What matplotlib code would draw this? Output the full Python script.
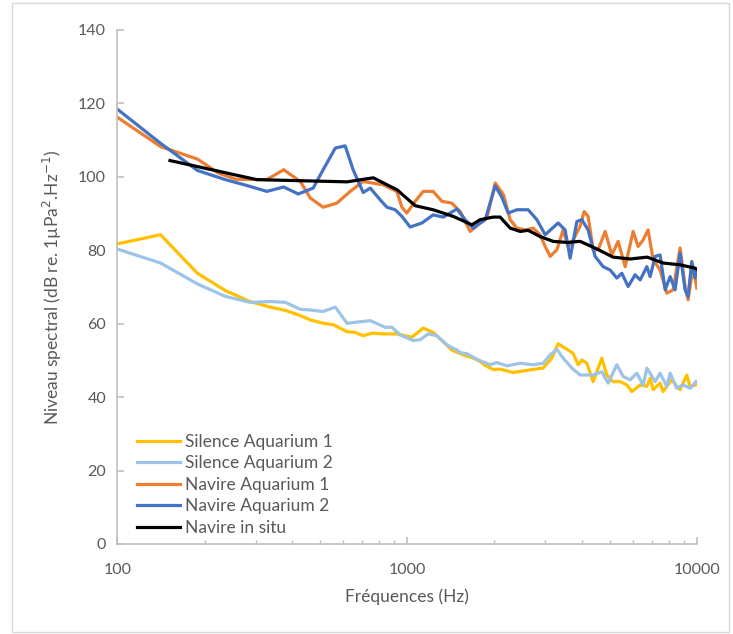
import matplotlib
matplotlib.use("Agg")
import matplotlib.pyplot as plt
from matplotlib.patches import Rectangle
from matplotlib.ticker import FixedLocator, NullFormatter

plt.rcParams['font.family'] = ['Lato', 'DejaVu Sans']

# Silence Aquarium 1
f_sil1 = [100, 141, 189, 236, 287, 337, 380, 428, 463, 513, 556, 620, 662, 705, 756, 826,
          922, 1038, 1136, 1229, 1331, 1426, 1561, 1689, 1785, 1858, 1980, 2093, 2321, 2656,
          2944, 3155, 3317, 3591, 3737, 3888, 4004, 4167, 4380, 4693, 4883, 5132, 5428, 5725,
          5955, 6363, 6710, 6887, 7055, 7454, 7635, 8181, 8511, 8738, 9215, 9461, 9921]
db_sil1 = [81.7, 84.2, 73.7, 69.0, 66.0, 64.5, 63.6, 62.2, 61.0, 60.1, 59.7, 57.8, 57.6, 56.7,
           57.4, 57.2, 57.2, 56.3, 58.8, 57.6, 55.1, 52.8, 51.5, 50.6, 49.7, 48.6, 47.5, 47.6,
           46.7, 47.4, 47.9, 50.6, 54.5, 52.8, 51.9, 48.8, 50.1, 49.2, 44.2, 50.6, 46.0, 44.2,
           44.2, 43.3, 41.5, 43.3, 42.9, 45.1, 42.0, 43.8, 41.5, 44.7, 42.9, 42.0, 46.0, 42.9,
           43.3]

# Silence Aquarium 2
f_sil2 = [100, 141, 189, 236, 287, 337, 380, 428, 463, 513, 565, 620, 746, 840, 886, 946,
          1049, 1109, 1181, 1266, 1371, 1441, 1484, 1524, 1607, 1739, 1933, 2039, 2207, 2453,
          2720, 2944, 3113, 3283, 3451, 3698, 3950, 4380, 4693, 4934, 5287, 5558, 5875, 6196,
          6516, 6710, 7168, 7454, 7863, 8071, 8511, 8949, 9461, 9921]
db_sil2 = [80.3, 76.5, 70.8, 67.4, 65.8, 66.0, 65.8, 63.9, 63.7, 63.3, 64.5, 60.1, 60.8, 59.0,
           59.0, 56.9, 55.4, 55.6, 57.2, 56.7, 54.2, 53.3, 52.8, 52.1, 51.8, 50.3, 48.8, 49.4,
           48.5, 49.2, 48.8, 49.2, 51.5, 53.0, 50.6, 47.9, 46.0, 46.0, 46.9, 43.8, 48.8, 45.6,
           44.7, 46.5, 43.3, 47.9, 44.2, 46.5, 42.9, 46.5, 42.4, 43.3, 42.4, 44.2]

# Navire Aquarium 1
f_nav1 = [100, 141, 189, 223, 257, 328, 375, 428, 463, 513, 572, 636, 705, 826, 921, 959,
          997, 1066, 1136, 1229, 1318, 1426, 1524, 1649, 1785, 1883, 2012, 2149, 2266, 2390,
          2553, 2720, 2875, 2992, 3113, 3283, 3451, 3591, 3737, 3950, 4077, 4209, 4380, 4557,
          4818, 5080, 5342, 5648, 6017, 6261, 6516, 6776, 7055, 7454, 7863, 8265, 8738, 9091,
          9311, 9687, 9977]
db_nav1 = [116.2, 108.2, 104.8, 101.0, 99.3, 99.2, 101.9, 98.7, 94.2, 91.7, 92.8, 96.0, 98.7,
           97.8, 96.0, 91.7, 90.1, 93.3, 96.0, 96.0, 93.3, 92.8, 90.5, 85.1, 87.4, 88.7, 98.3,
           95.1, 88.3, 86.0, 85.5, 86.0, 84.2, 81.0, 78.3, 80.1, 85.5, 81.0, 82.8, 86.5, 90.5,
           89.2, 80.1, 80.1, 85.1, 78.7, 82.4, 75.5, 85.1, 81.0, 82.8, 85.5, 77.4, 74.6, 68.3,
           69.2, 80.6, 70.1, 66.5, 75.5, 69.7]

# Navire Aquarium 2
f_nav2 = [100, 141, 189, 236, 283, 328, 375, 421, 474, 513, 565, 611, 651, 705, 746, 807,
          851, 909, 959, 1024, 1124, 1229, 1331, 1484, 1585, 1689, 1858, 2012, 2122, 2230,
          2390, 2614, 2801, 2992, 3317, 3506, 3648, 3848, 4004, 4209, 4450, 4742, 5012, 5287,
          5501, 5785, 6113, 6363, 6710, 6887, 7168, 7454, 7758, 8071, 8397, 8738, 9091, 9311,
          9587, 9842, 9977]
db_nav2 = [118.4, 109.1, 101.7, 99.2, 97.5, 96.0, 97.2, 95.3, 96.9, 101.9, 107.8, 108.4,
           101.9, 95.7, 96.9, 93.7, 91.7, 91.0, 89.2, 86.3, 87.4, 89.6, 89.0, 91.2, 88.3, 86.0,
           88.3, 97.5, 94.4, 90.1, 91.0, 91.0, 88.3, 84.2, 87.4, 85.5, 77.8, 87.8, 88.3, 85.5,
           78.3, 75.5, 74.6, 72.4, 73.7, 70.1, 73.3, 71.9, 75.5, 72.8, 78.3, 78.7, 69.2, 72.8,
           69.2, 79.2, 69.2, 67.4, 76.9, 72.4, 74.6]

# Navire in situ
f_situ = [152, 303, 620, 764, 924, 1066, 1229, 1441, 1672, 1785, 1980, 2093, 2266, 2453, 2614,
          2875, 3187, 3562, 3950, 4522, 5132, 5875, 6727, 7635, 8738, 9842, 9977]
db_situ = [104.4, 99.2, 98.6, 99.7, 96.4, 92.1, 91.0, 89.2, 86.9, 88.3, 89.0, 89.0, 86.0, 85.1,
           85.4, 83.7, 82.4, 82.1, 82.4, 80.3, 78.1, 77.6, 78.1, 76.5, 76.0, 75.1, 74.8]

series = [
    ("Silence Aquarium 1", f_sil1, db_sil1, "#FFC000"),
    ("Silence Aquarium 2", f_sil2, db_sil2, "#9DC3E6"),
    ("Navire Aquarium 1", f_nav1, db_nav1, "#ED7D31"),
    ("Navire Aquarium 2", f_nav2, db_nav2, "#4472C4"),
    ("Navire in situ", f_situ, db_situ, "#000000"),
]

fig = plt.figure(figsize=(7.33, 6.34), dpi=100)
ax = fig.add_axes([0.160, 0.142, 0.791, 0.811])

for name, f, db, col in series:
    ax.plot(f, db, color=col, lw=2.3, label=name, solid_joinstyle='round')

ax.set_xscale('log')
ax.set_xlim(100, 10000)
ax.set_ylim(0, 140)
ax.set_yticks(range(0, 141, 20))
ax.set_xticks([100, 1000, 10000])
ax.set_xticklabels(['100', '1000', '10000'])
ax.xaxis.set_minor_locator(FixedLocator([m * d for d in (100, 1000) for m in range(2, 10)]))
ax.xaxis.set_minor_formatter(NullFormatter())

grey = '#BFBFBF'
for s in ('top', 'right'):
    ax.spines[s].set_visible(False)
for s in ('left', 'bottom'):
    ax.spines[s].set_color(grey)
    ax.spines[s].set_linewidth(1.2)
ax.tick_params(axis='both', which='major', direction='in', length=5, width=1.2,
               color=grey, labelcolor='#595959', labelsize=11.5, pad=8)
ax.tick_params(axis='x', which='major', pad=14)
ax.tick_params(axis='x', which='minor', direction='in', length=3, width=1, color=grey)

ax.set_xlabel('Fréquences (Hz)', fontsize=12.5, color='#595959', labelpad=8)
ax.set_ylabel('Niveau spectral (dB re. 1µPa$^{2}$.Hz$^{-1}$)', fontsize=12.5,
              color='#595959', labelpad=10)

leg = ax.legend(loc='upper left', bbox_to_anchor=(0.022, 0.228), frameon=False,
                fontsize=12.5, handlelength=2.5, handletextpad=0.25, labelspacing=0.32,
                borderaxespad=0)
for t in leg.get_texts():
    t.set_color('#595959')

fig.patches.append(Rectangle((12 / 733, 2 / 634), 717 / 733, 629 / 634, transform=fig.transFigure,
                             fill=False, edgecolor='#D9D9D9', lw=1))

fig.savefig('out.png', dpi=100)
